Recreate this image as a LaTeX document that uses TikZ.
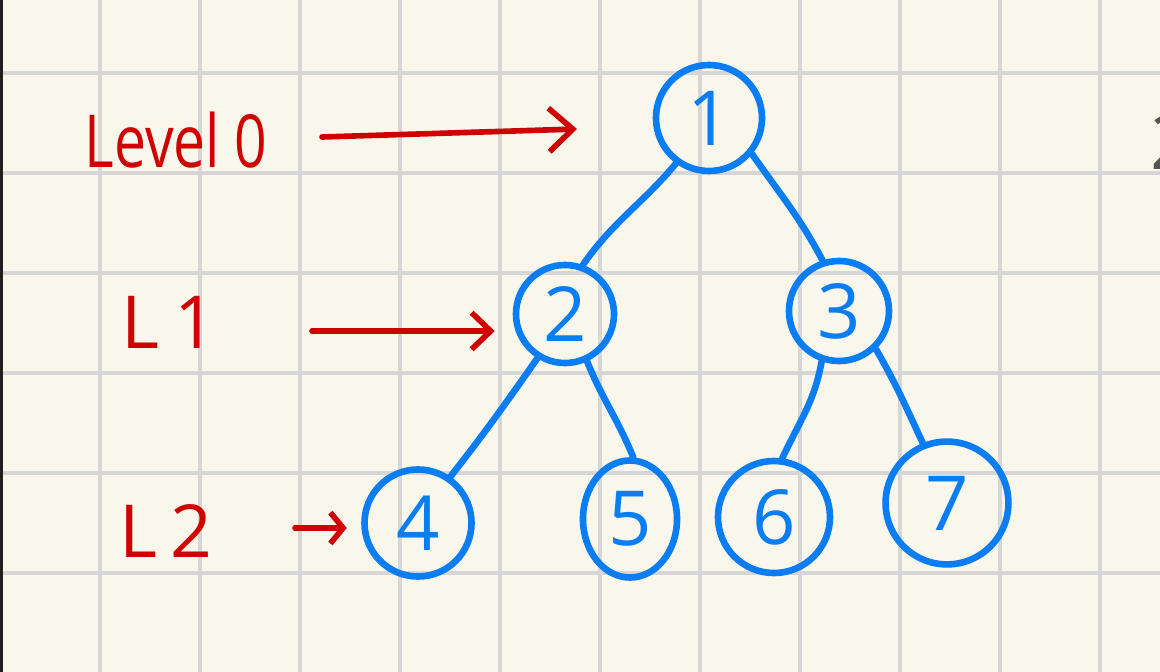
\documentclass[tikz,border=0pt]{standalone}
\usepackage{fontspec}
\setmainfont{Open Sans}
\usetikzlibrary{arrows.meta,shapes.geometric}
\definecolor{paper}{HTML}{F9F7EC}
\definecolor{gridgray}{HTML}{D6D6D6}
\definecolor{ink}{HTML}{0A7DF2}
\definecolor{pen}{HTML}{D00000}
\definecolor{pencil}{HTML}{555555}
\begin{document}
\begin{tikzpicture}[x=0.025cm,y=-0.025cm,
  treenode/.style={circle, draw=ink, line width=4.7pt, text=ink, inner sep=0pt,
    font=\fontsize{54}{54}\selectfont},
  branch/.style={draw=ink, line width=4.7pt, line cap=round},
  levellabel/.style={text=pen, inner sep=0pt, font=\fontsize{52}{52}\selectfont},
  levelarrow/.style={draw=pen, line width=4pt, line cap=round, line join=round},
  gridline/.style={draw=gridgray, line width=2.8pt}]
\useasboundingbox (0,0) rectangle (1160,672);
\clip (0,0) rectangle (1160,672);

% squared paper
\fill[paper] (0,0) rectangle (1160,672);
\foreach \gx in {100,200,...,1100} \draw[gridline] (\gx,0) -- (\gx,672);
\foreach \gy in {73,173,...,573} \draw[gridline] (0,\gy) -- (1160,\gy);
\fill[black!88] (0,0) rectangle (2.5,672);

% tree
\node[treenode, minimum size=2.65cm] (n1) at (709,118) {1};
\node[treenode, minimum size=2.45cm] (n2) at (565,314) {2};
\node[treenode, minimum size=2.5cm]  (n3) at (839,311) {3};
\node[treenode, minimum size=2.675cm] (n4) at (418,523) {4};
\node[treenode, ellipse, minimum width=2.35cm, minimum height=2.925cm] (n5) at (630,519) {5};
\node[treenode, minimum size=2.8cm]  (n6) at (774,517) {6};
\node[treenode, minimum size=3.07cm] (n7) at (947,503) {7};

\draw[branch] (n1.-126) to[out=-130,in=55] (n2.70);
\draw[branch] (n1.-40) to[out=-55,in=118] (n3.108);
\draw[branch] (n2.-122) to[out=-125,in=52] (n4.55);
\draw[branch] (n2.-65) to[out=-68,in=112] (n5.87);
\draw[branch] (n3.-109) to[out=-100,in=65] (n6.82);
\draw[branch] (n3.-46) to[out=-60,in=115] (n7.112);

% level labels and arrows
\node[levellabel] (lab0) at (176,140) {\scalebox{0.78}[1]{Level 0}};
\node[levellabel] (lab1) at (169,322) {L\kern11pt1};
\node[levellabel] (lab2) at (166,531) {L\kern9pt2};

\coordinate (a0s) at (322,137);
\coordinate (a0e) at (577,129);
\coordinate (a1s) at (312,331);
\coordinate (a2s) at (295,528);

\draw[levelarrow, -{Straight Barb[length=17pt,width=31pt]}] (a0s) -- (a0e);
\draw[levelarrow, shorten >=12.8pt, -{Straight Barb[length=13.5pt,width=26pt]}]
  (a1s) -- (a1s -| n2.west);
\draw[levelarrow, shorten >=10.3pt, -{Straight Barb[length=9pt,width=22pt]}]
  (a2s) -- (a2s -| n4.west);

% digit cut off at the page edge
\node[text=pencil, anchor=west, inner sep=0pt, font=\fontsize{54}{54}\selectfont] (edge2) at (1150,142) {2};
\end{tikzpicture}
\end{document}
